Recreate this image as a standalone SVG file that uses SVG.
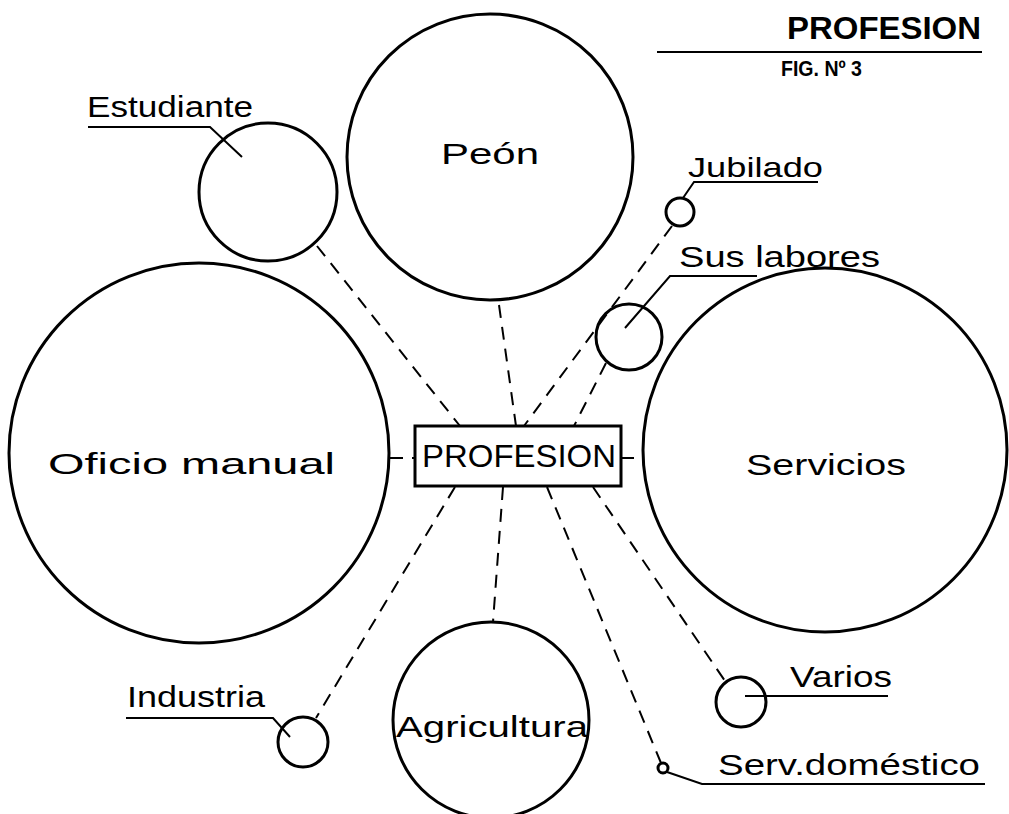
<svg xmlns="http://www.w3.org/2000/svg" width="1009" height="814" viewBox="0 0 1009 814">
<style>
.c{fill:none;stroke:#000;stroke-width:3}
.d{fill:none;stroke:#000;stroke-width:2;stroke-dasharray:13 9}
.l{fill:none;stroke:#000;stroke-width:2}
.t{font-family:"Liberation Sans",Arial,sans-serif;fill:#000}
</style>
<rect width="1009" height="814" fill="#fff"/>
<g id="title">
<text class="t" x="787" y="39" font-size="32" font-weight="bold" textLength="194" lengthAdjust="spacingAndGlyphs">PROFESION</text>
<line class="l" x1="657" y1="52" x2="982" y2="52"/>
<text class="t" x="781" y="76" font-size="22" font-weight="bold" textLength="81" lengthAdjust="spacingAndGlyphs">FIG. Nº 3</text>
</g>
<g id="connectors">
<line class="d" x1="390" y1="458" x2="415" y2="458"/>
<line class="d" x1="621" y1="458" x2="644" y2="458"/>
<line class="d" x1="317" y1="246" x2="460" y2="426"/>
<line class="d" x1="499" y1="305" x2="516" y2="426"/>
<line class="d" x1="672" y1="226" x2="524" y2="426"/>
<line class="d" x1="606" y1="363" x2="574" y2="426"/>
<line class="d" x1="455" y1="487" x2="316" y2="718"/>
<line class="d" x1="503" y1="487" x2="493" y2="622"/>
<line class="d" x1="547" y1="487" x2="661" y2="763"/>
<line class="d" x1="593" y1="487" x2="725" y2="681"/>
</g>
<g id="peon">
<circle class="c" cx="490" cy="157" r="143"/>
<text class="t" x="490" y="164" font-size="29" text-anchor="middle" textLength="98" lengthAdjust="spacingAndGlyphs">Peón</text>
</g>
<g id="estudiante">
<circle class="c" cx="268" cy="192" r="69"/>
<text class="t" x="87" y="117" font-size="29" textLength="166" lengthAdjust="spacingAndGlyphs">Estudiante</text>
<polyline class="l" points="88,127 210,127 242,157"/>
</g>
<g id="jubilado">
<circle class="c" cx="680" cy="212" r="14"/>
<text class="t" x="688" y="177" font-size="28" textLength="135" lengthAdjust="spacingAndGlyphs">Jubilado</text>
<polyline class="l" points="818,182 694,182 683,198"/>
</g>
<g id="sus-labores">
<circle class="c" cx="629" cy="337" r="33"/>
<text class="t" x="679" y="267" font-size="29" textLength="201" lengthAdjust="spacingAndGlyphs">Sus labores</text>
<polyline class="l" points="757,276 670,276 625,328"/>
</g>
<g id="oficio-manual">
<circle class="c" cx="199" cy="453" r="190"/>
<text class="t" x="48" y="474" font-size="30" textLength="287" lengthAdjust="spacingAndGlyphs">Oficio manual</text>
</g>
<g id="servicios">
<circle class="c" cx="825" cy="450" r="182"/>
<text class="t" x="746" y="475" font-size="30" textLength="160" lengthAdjust="spacingAndGlyphs">Servicios</text>
</g>
<g id="profesion">
<rect x="415" y="426" width="206" height="60" fill="#fff" stroke="#000" stroke-width="3"/>
<text class="t" x="422" y="467" font-size="32" textLength="194" lengthAdjust="spacingAndGlyphs">PROFESION</text>
</g>
<g id="agricultura">
<circle class="c" cx="491" cy="720" r="98"/>
<text class="t" x="396" y="737" font-size="29" textLength="192" lengthAdjust="spacingAndGlyphs">Agricultura</text>
</g>
<g id="industria">
<circle class="c" cx="303" cy="742" r="25"/>
<text class="t" x="127" y="707" font-size="29" textLength="138" lengthAdjust="spacingAndGlyphs">Industria</text>
<polyline class="l" points="126,718 273,718 290,737"/>
</g>
<g id="varios">
<circle class="c" cx="741" cy="702" r="25"/>
<text class="t" x="790" y="687" font-size="29" textLength="102" lengthAdjust="spacingAndGlyphs">Varios</text>
<line class="l" x1="745" y1="696" x2="888" y2="696"/>
</g>
<g id="serv-domestico">
<circle class="c" cx="663" cy="768" r="5"/>
<text class="t" x="718" y="775" font-size="29" textLength="262" lengthAdjust="spacingAndGlyphs">Serv.doméstico</text>
<polyline class="l" points="667,772 702,784 985,784"/>
</g>
</svg>
